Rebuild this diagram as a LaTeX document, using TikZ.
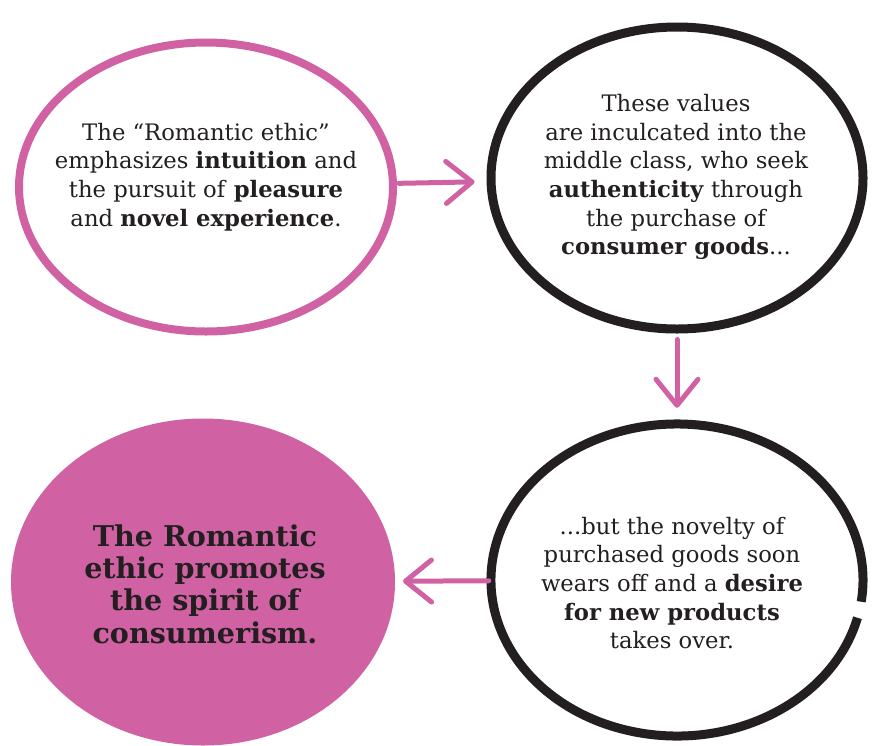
\documentclass[tikz,border=0pt]{standalone}
\usepackage{fontspec}
\setmainfont{DejaVu Serif}
\usetikzlibrary{shapes.geometric,arrows.meta}
\definecolor{rpink}{RGB}{208,98,163}
\definecolor{ink}{RGB}{35,31,32}
\tikzset{
  ring/.style={ellipse, draw, inner sep=0pt},
  pinkring/.style={ring, draw=rpink, line width=8pt},
  blackring/.style={ring, draw=ink, line width=9pt},
  filledring/.style={ellipse, fill=rpink, draw=rpink, line width=2pt, inner sep=0pt},
  body/.style={align=center, text=ink, font=\fontsize{22.7}{28.6}\selectfont},
  bigbody/.style={align=center, text=ink, font=\fontsize{28.6}{32.4}\selectfont\bfseries},
  arr/.style={draw=rpink, line width=5pt, line cap=round,
     -{Straight Barb[length=26pt,width=42pt,line width=5pt,round]}}
}
\begin{document}
\begin{tikzpicture}[x=1pt,y=-1pt]
\useasboundingbox (0,0) rectangle (874,745);
\node[pinkring, minimum width=374pt, minimum height=289pt] (c1) at (206,187) {};
\node[blackring, minimum width=372pt, minimum height=302pt] (c2) at (677,178) {};
\node[filledring, minimum width=382pt, minimum height=325pt] (c4) at (203,582) {};
\node[ring, draw=none, minimum width=372pt, minimum height=312pt] (c3) at (677,580) {};
\draw[ink, line width=9pt] ([shift={(14:186 and 156)}]c3.center) arc[start angle=14, end angle=368, x radius=186, y radius=156];

\node[body] (t1) at (206,177) {The “Romantic ethic”\\emphasizes \textbf{intuition} and\\the pursuit of \textbf{pleasure}\\and \textbf{novel experience}.};
\node[body] (t2) at (676,177) {These values\\are inculcated into the\\middle class, who seek\\\textbf{authenticity} through\\the purchase of\\\textbf{consumer goods}...};
\node[body] (t3) at (672,583) {...but the novelty of\\purchased goods soon\\wears off and a \textbf{desire}\\\textbf{for new products}\\takes over.};
\node[bigbody] (t4) at (205,584) {The Romantic\\ethic promotes\\the spirit of\\consumerism.};

\draw[arr, shorten <=2pt, shorten >=12pt] (c1) -- (c2);
\draw[arr, shorten <=6pt, shorten >=16pt] (c2) -- (c3);
\draw[arr, shorten <=2pt, shorten >=8pt] (c3) -- (c4);
\end{tikzpicture}
\end{document}
